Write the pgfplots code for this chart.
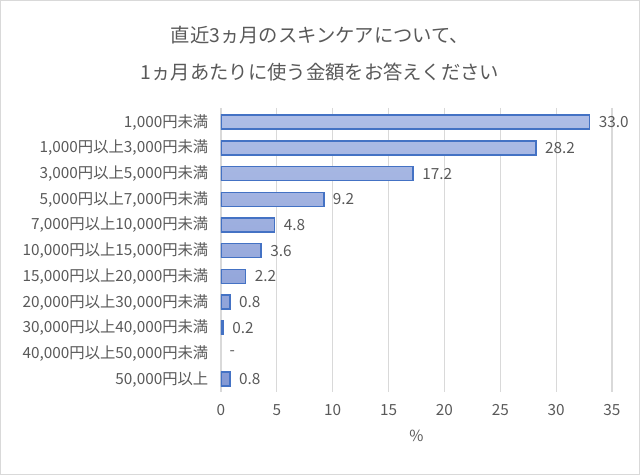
\documentclass[border=0pt]{standalone}
\usepackage{pgfplots}
\pgfplotsset{compat=1.18}
\usepackage{fontspec}
\setmainfont{Noto Sans CJK JP}
\definecolor{txt}{HTML}{595959}
\definecolor{gridc}{HTML}{D9D9D9}
\definecolor{barline}{HTML}{4472C4}
\definecolor{bartop}{HTML}{AEBDE6}
\definecolor{barbot}{HTML}{8499D4}
\begin{document}
\begin{tikzpicture}
\useasboundingbox (0,0) rectangle (480pt,356.25pt);
\draw[gridc, line width=1pt] (0.5pt,0.5pt) rectangle (479.5pt,355.75pt);
\node[text=txt, font=\fontsize{14.5}{16}\selectfont] at (240pt,330pt) {直近3ヵ月のスキンケアについて、};
\node[text=txt, font=\fontsize{14.5}{16}\selectfont] at (240pt,302.25pt) {1ヵ月あたりに使う金額をお答えください};
\begin{axis}[
    at={(165.75pt,62.25pt)}, anchor=south west,
    scale only axis,
    width=293.25pt, height=213pt,
    xmin=0, xmax=35,
    xtick={0,5,...,35},
    ymin=-0.55, ymax=10.5,
    y dir=reverse,
    ytick={0,...,10},
    yticklabels={{1,000円未満},{1,000円以上3,000円未満},{3,000円以上5,000円未満},
        {5,000円以上7,000円未満},{7,000円以上10,000円未満},{10,000円以上15,000円未満},
        {15,000円以上20,000円未満},{20,000円以上30,000円未満},{30,000円以上40,000円未満},
        {40,000円以上50,000円未満},{50,000円以上}},
    xmajorgrids,
    grid style={gridc, line width=0.8pt},
    axis line style={draw=none},
    major tick length=0pt,
    tick label style={text=txt, font=\fontsize{11.5}{13}\selectfont},
    xticklabel style={yshift=-6pt},
    yticklabel style={xshift=-6pt},
    xlabel={\%},
    xlabel style={text=txt, font=\fontsize{11.5}{13}\selectfont, yshift=-4pt},
    /pgf/number format/assume math mode=true,
]
\addplot[xbar, bar width=10.5pt, draw=barline, line width=1.1pt,
    top color=bartop, bottom color=barbot,
    nodes near coords, point meta=explicit symbolic,
    nodes near coords style={anchor=west, xshift=3pt, text=txt, font=\fontsize{11.5}{13}\selectfont}]
coordinates {
    (33.0,0) [33.0]
    (28.2,1) [28.2]
    (17.2,2) [17.2]
    (9.2,3) [9.2]
    (4.8,4) [4.8]
    (3.6,5) [3.6]
    (2.2,6) [2.2]
    (0.8,7) [0.8]
    (0.2,8) [0.2]
    (0.8,10) [0.8]
};
% no answer in this category
\addplot[draw=none, mark=none, nodes near coords, point meta=explicit symbolic,
    nodes near coords style={anchor=west, xshift=3pt, text=txt, font=\fontsize{11.5}{13}\selectfont}]
coordinates {
    (0,9) [-]
};
\end{axis}
\end{tikzpicture}
\end{document}
